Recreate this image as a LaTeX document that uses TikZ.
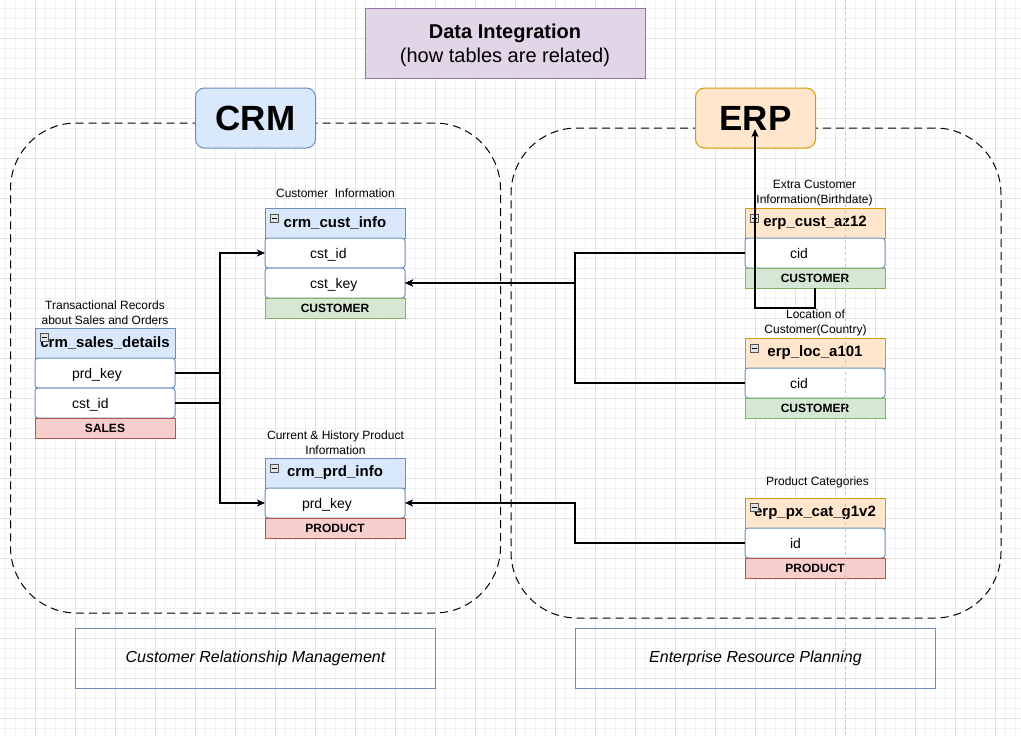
\documentclass[tikz,border=0pt]{standalone}
\usepackage{fontspec}
\setmainfont{Liberation Sans}
\usetikzlibrary{arrows.meta,calc}

\definecolor{crmF}{HTML}{DAE8FC}
\definecolor{crmB}{HTML}{6C8EBF}
\definecolor{erpF}{HTML}{FFE6CC}
\definecolor{erpB}{HTML}{D79B00}
\definecolor{grnF}{HTML}{D5E8D4}
\definecolor{grnB}{HTML}{82B366}
\definecolor{redF}{HTML}{F8CECC}
\definecolor{redB}{HTML}{B85450}
\definecolor{purF}{HTML}{E1D5E7}
\definecolor{purB}{HTML}{9673A6}
\definecolor{gridMinor}{HTML}{F2F2F2}
\definecolor{gridMajor}{HTML}{E2E2E2}

\newcommand\fTitle{\fontsize{20}{24}\selectfont}
\newcommand\fTag{\fontsize{35}{40}\selectfont\bfseries}
\newcommand\fHead{\fontsize{15}{18}\selectfont\bfseries}
\newcommand\fRow{\fontsize{14}{17}\selectfont}
\newcommand\fFoot{\fontsize{12}{14}\selectfont\bfseries}
\newcommand\fNote{\fontsize{12}{15}\selectfont}
\newcommand\fCap{\fontsize{16}{19}\selectfont\itshape}

\begin{document}
\begin{tikzpicture}[x=1pt,y=-1pt,
  minorgrid/.style={draw=gridMinor,line width=0.8pt},
  majorgrid/.style={draw=gridMajor,line width=0.8pt},
  grp/.style={draw=black,line width=1pt,dash pattern=on 8pt off 5pt,rounded corners=66pt,
    minimum width=490,minimum height=490,anchor=north west,inner sep=0pt,outer sep=0pt},
  titlebox/.style={draw=purB,fill=purF,line width=1pt,minimum width=280,minimum height=70,
    anchor=north west,outer sep=0pt},
  titletext/.style={align=center,font=\fTitle,inner sep=0pt},
  tag/.style={draw=#1B,fill=#1F,line width=1pt,rounded corners=9pt,minimum width=120,
    minimum height=60,anchor=north west,font=\fTag,outer sep=0pt},
  head/.style={draw=#1B,fill=#1F,line width=1pt,minimum width=140,minimum height=30,
    inner sep=0pt,outer sep=0pt,anchor=north west,font=\fHead},
  cell/.style={draw=crmB,fill=white,line width=1pt,rounded corners=3pt,minimum height=30,
    text width=140pt,align=left,inner xsep=0pt,inner ysep=0pt,outer sep=0pt,anchor=north west,
    text height=12pt,text depth=2pt,
    font=\fRow,execute at begin node={\hspace*{#1pt}}},
  foot/.style={draw=#1B,fill=#1F,line width=1pt,minimum width=140,minimum height=20,
    inner sep=0pt,outer sep=0pt,anchor=north west,font=\fFoot},
  collapse/.style={draw=gray!65!black,fill=gray!22,line width=0.6pt,minimum size=8,inner sep=0pt,
    path picture={\draw[black,line width=0.9pt]
      ([xshift=1.6pt]path picture bounding box.west) -- ([xshift=-1.6pt]path picture bounding box.east);}},
  note/.style={align=center,font=\fNote,inner sep=0pt},
  capbox/.style={draw=crmB,line width=1pt,minimum width=360,minimum height=60,anchor=north west,
    font=\fCap,outer sep=0pt},
  conn/.style={draw=black,line width=1.2pt,-{Stealth[length=8pt,width=7pt,inset=2pt]}},
]
% canvas and grid
\fill[white] (0,0) rectangle (1021,736);
\useasboundingbox (0,0) rectangle (1021,736);
\foreach \x in {5,15,...,1015} \draw[minorgrid] (\x,0) -- (\x,736);
\foreach \y in {8,18,...,728} \draw[minorgrid] (0,\y) -- (1021,\y);
\foreach \x in {35,75,...,995} \draw[majorgrid] (\x,0) -- (\x,736);
\foreach \y in {38,78,...,718} \draw[majorgrid] (0,\y) -- (1021,\y);

% system groups
\node[grp] (crm-grp) at (10.5,123) {};
\node[grp] (erp-grp) at (511,128) {};

% title and system tags
\node[titlebox] (title) at (365,8) {};
\node[titletext] (title-t) at ($(title.center)+(0,2.5)$) {{\bfseries Data Integration}\\(how tables are related)};
\node[tag=crm] (crm-tag) at (195.5,88) {CRM};
\node[tag=erp] (erp-tag) at (695.5,88) {ERP};

% crm_cust_info
\node[head=crm] (cci-h) at (265,208) {crm\_cust\_info};
\node[cell=45] (cci-id) at (cci-h.south west) {cst\_id};
\node[cell=45] (cci-key) at (cci-id.south west) {cst\_key};
\node[foot=grn] (cci-f) at (cci-key.south west) {CUSTOMER};
\node[collapse] (cci-m) at ($(cci-h.north west)+(9.5,10)$) {};
\node[note] (cci-n) at (335.5,193) {Customer~ Information};

% crm_sales_details
\node[head=crm] (csd-h) at (35,328) {crm\_sales\_details};
\node[collapse] (csd-m) at ($(csd-h.north west)+(9.5,9)$) {};
\node[cell=37] (csd-prd) at (csd-h.south west) {prd\_key};
\node[cell=37] (csd-cst) at (csd-prd.south west) {cst\_id};
\node[foot=red] (csd-f) at (csd-cst.south west) {SALES};
\node[note] (csd-n) at (105,313) {Transactional Records\\about Sales and Orders};

% crm_prd_info
\node[head=crm] (cpi-h) at (265,458) {crm\_prd\_info};
\node[collapse] (cpi-m) at ($(cpi-h.north west)+(9.5,10)$) {};
\node[cell=37] (cpi-key) at (cpi-h.south west) {prd\_key};
\node[foot=red] (cpi-f) at (cpi-key.south west) {PRODUCT};
\node[note] (cpi-n) at (335.5,443) {Current \& History Product\\Information};

% erp_cust_az12
\node[head=erp] (eca-h) at (745,208) {erp\_cust\_az12};
\node[collapse] (eca-m) at ($(eca-h.north west)+(9.5,10)$) {};
\node[cell=45] (eca-cid) at (eca-h.south west) {cid};
\node[foot=grn] (eca-f) at (eca-cid.south west) {CUSTOMER};
\node[note] (eca-n) at (814.5,193) {Extra Customer\\Information(Birthdate)};

% erp_loc_a101
\node[head=erp] (elo-h) at (745,338) {erp\_loc\_a101};
\node[collapse] (elo-m) at ($(elo-h.north west)+(9.5,10)$) {};
\node[cell=45] (elo-cid) at (elo-h.south west) {cid};
\node[foot=grn] (elo-f) at (elo-cid.south west) {CUSTOMER};
\node[note] (elo-n) at (815.5,323) {Location of\\Customer(Country)};

% erp_px_cat_g1v2
\node[head=erp] (epx-h) at (745,498) {erp\_px\_cat\_g1v2};
\node[collapse] (epx-m) at ($(epx-h.north west)+(9.5,9.5)$) {};
\node[cell=45] (epx-id) at (epx-h.south west) {id};
\node[foot=red] (epx-f) at (epx-id.south west) {PRODUCT};
\node[note] (epx-n) at (817.5,482.5) {Product Categories};

% relations
\draw[conn] (csd-cst.east) -- ++(45,0) |- (cci-id.west);
\draw[conn] (csd-prd.east) -- ++(45,0) |- (cpi-key.west);
\draw[conn] (eca-cid.west) -- ++(-170,0) |- (cci-key.east);
\draw[conn] (elo-cid.west) -- ++(-170,0) |- (cci-key.east);
\draw[conn] (epx-id.west) -- ++(-170,0) |- (cpi-key.east);
\coordinate (erp-in) at (755,129);
\draw[conn] (eca-f.south) -- ++(0,20) -| (erp-in);

% captions
\node[capbox] (crm-cap) at (75.5,628) {Customer Relationship Management};
\node[capbox] (erp-cap) at (575.5,628) {Enterprise Resource Planning};

% page boundary guide
\coordinate (pg-top) at (845.5,0);
\coordinate (pg-bot) at (845.5,736);
\draw[gray!45,line width=0.8pt,dash pattern=on 3pt off 3pt] (pg-top) -- (pg-bot);
\end{tikzpicture}
\end{document}
